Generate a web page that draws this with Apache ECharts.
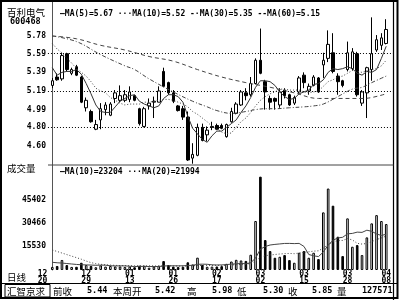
<!DOCTYPE html>
<html><head><meta charset="utf-8">
<script src="https://cdn.jsdelivr.net/npm/echarts@6/dist/echarts.min.js"></script>
<style>html,body{margin:0;padding:0;background:#fff}#c{width:400px;height:300px}</style>
</head><body><div id="c"></div>
<script>
// ---------------- data ----------------
const stockName = '百利电气';
const stockCode = '600468';
const opens  = [5.25,5.34,5.32,5.59,5.38,5.45,5.34,5.01,4.97,4.78, 4.88,4.99,4.93,5.11,5.09,5.09,5.10,5.14,5.00,4.81, 5.03,5.07,5.07,5.40,5.28,5.17,5.03,5.00,4.91,4.47, 4.50,4.80,4.72,4.80,4.82,4.82,4.70,4.86,4.95,5.04, 5.17,5.15,5.27,5.52,5.29,5.11,5.11,5.04,5.20,5.15, 5.06,5.18,5.36,5.19,5.25,5.33,5.47,5.54,5.60,5.35, 5.30,5.42,5.43,5.59,5.06,5.17,5.42,5.63,5.68,5.70];
const closes = [5.30,5.31,5.57,5.42,5.42,5.36,5.07,5.09,4.86,4.83, 5.00,5.04,5.05,5.17,5.14,5.15,5.18,5.09,4.84,5.00, 5.06,5.08,5.19,5.24,5.17,5.08,4.98,4.91,4.45,4.51, 4.80,4.66,4.77,4.81,4.78,4.79,4.83,4.97,5.05,5.18, 5.14,5.27,5.52,5.38,5.18,5.07,5.08,5.18,5.14,5.04, 5.12,5.33,5.28,5.24,5.34,5.18,5.52,5.69,5.40,5.29, 5.25,5.60,5.61,5.15,5.18,5.44,5.59,5.74,5.76,5.85];
const lows   = [5.22,5.30,5.30,5.40,5.36,5.35,5.06,4.97,4.85,4.77, 4.78,4.93,4.92,5.06,5.07,5.07,5.07,5.08,4.82,4.80, 4.99,4.90,5.07,5.23,5.15,5.06,4.97,4.88,4.44,4.41, 4.49,4.65,4.65,4.77,4.77,4.78,4.69,4.85,4.94,5.03, 5.09,5.13,5.26,5.37,4.99,4.99,4.99,5.01,5.11,5.03, 5.04,5.16,5.22,5.15,5.24,5.17,5.33,5.50,5.38,5.15, 5.23,5.40,5.41,5.13,5.03,4.90,5.30,5.61,5.63,5.69];
const highs  = [5.33,5.38,5.60,5.60,5.44,5.47,5.35,5.12,4.99,4.88, 5.06,5.07,5.07,5.20,5.25,5.20,5.24,5.15,5.01,5.02, 5.11,5.13,5.24,5.44,5.29,5.20,5.04,5.03,4.97,4.63, 4.84,4.84,4.81,4.86,4.84,4.84,4.84,5.01,5.07,5.20, 5.22,5.34,5.54,5.86,5.31,5.14,5.12,5.22,5.22,5.16, 5.14,5.35,5.39,5.27,5.36,5.34,5.60,5.84,5.81,5.38, 5.31,5.72,5.65,5.61,5.20,5.45,5.98,5.79,5.81,5.96];
const volumes = [2000,2600,6500,3200,2000,2100,4700,3200,2600,1800, 3000,2200,2600,2300,2300,2000,2200,1800,2800,2700, 1500,2200,2800,5800,3200,2200,1900,2100,5000,3600, 8000,3200,2100,2200,2300,2500,4000,5500,6600,6200, 5900,9900,31760,60540,19420,12270,7940,8590,9680,6430, 4700,11190,12270,7940,11190,7080,37380,52830,41710,21580, 9030,33490,15090,16170,9680,21150,30240,35600,31760,29810];
const ma5  = [5.44,5.36,5.39,5.40,5.40,5.42,5.37,5.27,5.16,5.04, 4.97,4.96,4.96,5.02,5.08,5.11,5.14,5.15,5.08,5.05, 5.03,5.01,5.03,5.11,5.15,5.15,5.13,5.07,4.92,4.79, 4.73,4.67,4.64,4.71,4.76,4.76,4.80,4.84,4.88,4.96, 5.03,5.12,5.23,5.30,5.30,5.29,5.25,5.18,5.13,5.10, 5.11,5.16,5.18,5.20,5.26,5.27,5.31,5.39,5.43,5.42, 5.43,5.45,5.43,5.38,5.36,5.40,5.39,5.42,5.54,5.67];
const ma10 = [5.70,5.64,5.60,5.54,5.49,5.43,5.39,5.35,5.29,5.22, 5.19,5.17,5.12,5.09,5.06,5.04,5.05,5.05,5.05,5.07, 5.07,5.08,5.09,5.10,5.10,5.09,5.07,5.05,5.02,4.97, 4.94,4.90,4.86,4.81,4.78,4.75,4.73,4.74,4.80,4.86, 4.90,4.96,5.03,5.09,5.13,5.16,5.18,5.21,5.21,5.20, 5.20,5.20,5.18,5.17,5.18,5.19,5.24,5.29,5.31,5.34, 5.35,5.38,5.41,5.40,5.39,5.41,5.42,5.43,5.46,5.52];
const ma30 = [[0,5.78],[5,5.72],[10,5.58],[15,5.46],[17,5.42],[20,5.32],[25,5.18],[29,5.08],[32,5.02],[34,4.98],[37,4.95],[40,4.97],[42,4.99],[44,5.00],[46,5.00],[49,5.01],[52,5.02],[54,5.03],[56,5.05],[59,5.13],[62,5.21],[64,5.23],[66,5.28],[69,5.35]];
const ma60 = [[0,5.78],[5,5.75],[10,5.68],[15,5.63],[20,5.56],[25,5.51],[30,5.42],[35,5.34],[40,5.28],[45,5.23],[50,5.17],[55,5.11],[59,5.11],[64,5.11],[66,5.12],[69,5.16]];
const volMa10 = [5000,4700,4500,4200,3900,3600,3400,3300,3200,3070, 3170,3130,2740,2650,2680,2670,2420,2280,2300,2390, 2240,2240,2260,2610,2700,2720,2690,2720,2940,3030, 3680,3780,3710,3350,3260,3290,3500,3840,4000,4260, 4050,4720,7690,13520,15230,16210,16600,16910,17220,17240, 17120,17250,15300,10040,9220,8700,11650,16070,19270,20790, 21220,23450,23730,24560,24400,25810,25100,23370,22380,23204];
const volMa20 = [13000,12000,11000,10000,9000,8000,7000,5800,4800,4100, 3700,3400,3200,3000,2900,2850,2800,2780,2750,2730, 2705,2685,2500,2630,2690,2695,2555,2500,2620,2710, 2960,3010,2985,2980,2980,3005,3095,3280,3470,3645, 3865,4250,5700,8435,9245,9750,10050,10375,10610,10750, 10590,10990,11495,11780,12225,12455,14125,16490,18245,19015, 19170,20350,19517,17300,16810,17255,18370,19720,20825,21994];
const dateTickIndex  = [-2, 7, 16, 25, 34, 43, 52, 61, 69];
const dateTickLabels = ['12\n20','12\n29','01\n13','01\n26','02\n17','03\n02','03\n15','03\n28','04\n08'];
const priceTicks = [5.78, 5.59, 5.39, 5.19, 4.99, 4.80, 4.60];
const priceGridTicks = [5.59, 5.19, 4.80];
const volumeTicks = [15530, 30466, 45402];
const maLegend  = '—MA(5)=5.67 ···MA(10)=5.52 -·MA(30)=5.35 --MA(60)=5.15';
const volLegend = '—MA(10)=23204 ···MA(20)=21994';
const infoBox = '汇智京求';
const infoLabels = ['前收', '本周开', '高', '低', '收', '量'];
const infoValues = ['5.44', '5.42', '5.98', '5.30', '5.85', '127571'];

// ---------------- layout ----------------
const MONO = '"DejaVu Sans Mono", monospace';
const CJK = '"Noto Sans CJK SC", sans-serif';
const X_MIN = -2.2, X_MAX = 70.4, PLOT_LEFT_VAL = -0.9;
const GRID_LEFT = 41.65, GRID_RIGHT = 7, AXIS_SHIFT = -6.35;
const infoLabelX = [53, 113, 187, 237, 288, 337];
const infoValueX = [87, 155, 212, 263, 312, 362];

const chart = echarts.init(document.getElementById('c'), null, {renderer: 'canvas'});
const candleData = opens.map((o, i) => [i, o, closes[i], lows[i], highs[i]]);
const isUp = i => closes[i] >= opens[i];
const hollow = {color: '#fff', borderColor: '#000', borderWidth: 1};
const solid = {color: '#000', borderColor: '#000', borderWidth: 1};
const volData = volumes.map((v, i) => ({value: [i, v], itemStyle: isUp(i) ? hollow : solid}));
const idx = arr => arr.map((v, i) => [i, v]);
const monoLabel = {fontFamily: MONO, fontWeight: 'bold', fontSize: 8, color: '#000'};

const txt = (text, x, y, font, align) => ({
  type: 'text', x: x, y: y, silent: true, z: 100,
  style: {text: text, font: font, fill: '#000', align: align || 'left', verticalAlign: 'middle'}
});
const ln = (x1, y1, x2, y2, w, c) => ({
  type: 'line', silent: true, z: 90,
  shape: {x1: x1, y1: y1, x2: x2, y2: y2},
  style: {stroke: c || '#000', lineWidth: w || 1}
});

const graphics = [
  {type: 'rect', silent: true, z: 90, shape: {x: 1, y: 1, width: 396.5, height: 297}, style: {fill: 'none', stroke: '#000', lineWidth: 2}},
  ln(393.5, 0, 393.5, 300, 1.2),
  ln(0, 283.5, 398, 283.5, 1),
  ln(48, 165, 393.5, 165, 1, '#444'),
  {type: 'rect', silent: true, z: 90, shape: {x: 5, y: 284.5, width: 45, height: 12.5}, style: {fill: 'none', stroke: '#000', lineWidth: 1}},
  txt(stockName, 7, 12, '9.5px ' + CJK),
  txt(stockCode, 10, 21.5, 'bold 8.5px ' + MONO),
  txt(maLegend, 60, 14, 'bold 8px ' + MONO),
  txt('成交量', 7, 168.5, '9.5px ' + CJK),
  txt(volLegend, 60, 171.5, 'bold 8px ' + MONO),
  txt('日线', 7, 277, '9.5px ' + CJK),
  txt(infoBox, 7, 291, '9.5px ' + CJK)
];
infoLabels.forEach((t, k) => graphics.push(txt(t, infoLabelX[k], 291, '9.5px ' + CJK)));
infoValues.forEach((t, k) => graphics.push(txt(t, infoValueX[k], 291, 'bold 8.5px ' + MONO)));

const lineSeries = (name, data, xi, type, color, smooth) => ({
  name: name, type: 'line', xAxisIndex: xi, yAxisIndex: xi, data: data,
  showSymbol: false, symbol: 'none', smooth: smooth || false, z: 5, silent: true,
  lineStyle: {color: color, width: 1, type: type}
});

chart.setOption({
  animation: false,
  backgroundColor: '#fff',
  grid: [
    {left: GRID_LEFT, right: GRID_RIGHT, top: 2, height: 163},
    {left: GRID_LEFT, right: GRID_RIGHT, top: 165, height: 105}
  ],
  xAxis: [
    {gridIndex: 0, type: 'value', min: X_MIN, max: X_MAX, show: false},
    {gridIndex: 1, type: 'value', min: X_MIN, max: X_MAX,
     axisLine: {show: false, onZero: false}, axisTick: {show: false}, splitLine: {show: false},
     axisLabel: Object.assign({customValues: dateTickIndex, lineHeight: 7, margin: 0,
       formatter: v => dateTickLabels[dateTickIndex.indexOf(v)] || ''}, monoLabel)}
  ],
  yAxis: [
    {gridIndex: 0, type: 'value', min: 4.3962, max: 6.1447, offset: AXIS_SHIFT,
     axisLine: {show: true, lineStyle: {color: '#555', width: 1}}, axisTick: {show: false}, splitLine: {show: false},
     axisLabel: Object.assign({customValues: priceTicks, margin: 2, formatter: v => v.toFixed(2)}, monoLabel)},
    {gridIndex: 1, type: 'value', min: 0, max: 68100, offset: AXIS_SHIFT,
     axisLine: {show: true, lineStyle: {color: '#555', width: 1}}, axisTick: {show: false}, splitLine: {show: false},
     axisLabel: Object.assign({customValues: volumeTicks, margin: 2, formatter: v => String(v)}, monoLabel)}
  ],
  series: [
    {type: 'candlestick', xAxisIndex: 0, yAxisIndex: 0, data: candleData, barWidth: 3, z: 3, silent: true,
     itemStyle: {color: '#fff', color0: '#000', borderColor: '#000', borderColor0: '#000', borderWidth: 1},
     markLine: {silent: true, symbol: ['none', 'none'], label: {show: false}, z: 1,
       lineStyle: {color: '#000', width: 1, type: [1, 2]},
       data: priceGridTicks.map(v => [{coord: [PLOT_LEFT_VAL, v]}, {coord: [X_MAX, v]}])}},
    lineSeries('MA5', idx(ma5), 0, 'solid', '#333'),
    lineSeries('MA10', idx(ma10), 0, [1, 2], '#444'),
    lineSeries('MA30', ma30, 0, [4, 2, 1, 2], '#444', 0.4),
    lineSeries('MA60', ma60, 0, [4, 3], '#444', 0.4),
    {type: 'bar', xAxisIndex: 1, yAxisIndex: 1, data: volData, barWidth: 2.6, z: 3, silent: true},
    lineSeries('VMA10', idx(volMa10), 1, 'solid', '#444'),
    lineSeries('VMA20', idx(volMa20), 1, [1, 2], '#444')
  ],
  graphic: graphics
});
</script>
</body></html>
